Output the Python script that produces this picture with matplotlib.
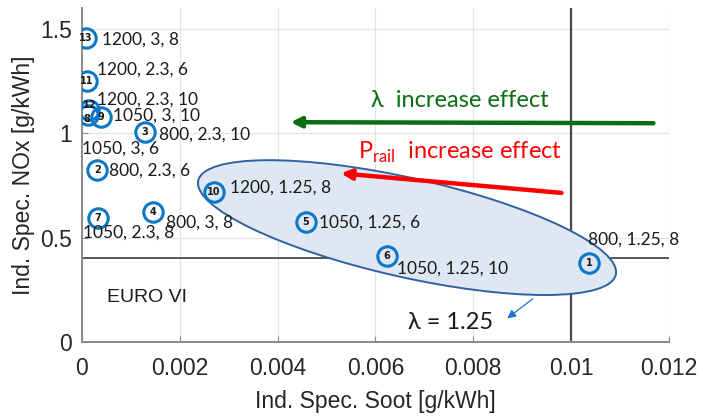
import matplotlib
matplotlib.use("Agg")
import matplotlib.pyplot as plt
from matplotlib.patches import Ellipse
from matplotlib.transforms import ScaledTranslation

plt.rcParams["mathtext.fontset"] = "custom"
plt.rcParams["mathtext.rm"] = "Lato"

# Operating points: soot vs NOx, labelled by (rail pressure, lambda, third parameter)
point_ids = [1, 2, 3, 4, 5, 6, 7, 8, 9, 10, 11, 12, 13]
soot = [0.01037, 0.00031, 0.00129, 0.00146, 0.00458, 0.00623, 0.00032,
        0.00012, 0.00038, 0.00270, 0.00010, 0.00014, 0.00008]
nox = [0.378, 0.823, 1.005, 0.622, 0.576, 0.411, 0.593,
       1.086, 1.080, 0.719, 1.249, 1.110, 1.455]
point_labels = ["800, 1.25, 8", "800, 2.3, 6", "800, 2.3, 10", "800, 3, 8",
                "1050, 1.25, 6", "1050, 1.25, 10", "1050, 2.3, 8", "1050, 3, 6",
                "1050, 3, 10", "1200, 1.25, 8", "1200, 2.3, 6", "1200, 2.3, 10",
                "1200, 3, 8"]

x_ticks = [0, 0.002, 0.004, 0.006, 0.008, 0.01, 0.012]
x_tick_labels = ["0", "0.002", "0.004", "0.006", "0.008", "0.01", "0.012"]
y_ticks = [0, 0.5, 1, 1.5]
y_tick_labels = ["0", "0.5", "1", "1.5"]

euro6_nox = 0.4
soot_limit = 0.01

# label offsets from each circle, in pixels
label_offsets = [(-1, 23), (12, 0), (14, -2), (13, -10), (13, -1), (10, -12),
                 (-15, -14), (-6, -33), (12, 1), (16, 4), (10, 12), (8, 11),
                 (16, -1)]
# small shifts of the circle numbers so the stacked 12 / 8 stay readable
number_offsets = [(0, 0), (0, 0), (0, 0), (0, 0), (0, 0), (0, 0), (0, 0),
                  (-1, -4), (0, 0), (0, 0), (0, 0), (1, 5), (0, 0)]

fig = plt.figure(figsize=(7.03, 4.16), dpi=100)
ax = fig.add_axes([0.1166, 0.1779, 0.8349, 0.8029])
ax.set_xlim(0, 0.012)
ax.set_ylim(0, 1.6)

ax.set_xticks(x_ticks)
ax.set_xticklabels(x_tick_labels)
ax.set_yticks(y_ticks)
ax.set_yticklabels(y_tick_labels)
ax.grid(True, color="#e4e4e4", linewidth=0.9)
ax.set_axisbelow(True)
for s in ["top", "right"]:
    ax.spines[s].set_visible(False)
for s in ["left", "bottom"]:
    ax.spines[s].set_color("#8a8a8a")
    ax.spines[s].set_linewidth(1.4)
ax.tick_params(direction="in", length=4, color="#8a8a8a", labelcolor="#262626",
               labelsize=16.5)
ax.tick_params(axis="x", pad=11)
ax.tick_params(axis="y", pad=7)
for lab in ax.get_xticklabels() + ax.get_yticklabels():
    lab.set_family("Liberation Sans")

ax.set_xlabel("Ind. Spec. Soot [g/kWh]", fontsize=16.5, family="Liberation Sans",
              color="#262626", labelpad=7)
ax.set_ylabel("Ind. Spec. NOx [g/kWh]", fontsize=16.5, family="Liberation Sans",
              color="#262626", labelpad=4)

# limit lines
ax.axhline(euro6_nox, color="#4a4a4a", linewidth=1.3, zorder=2)
ax.axvline(soot_limit, color="#4a4a4a", linewidth=1.6, zorder=2)

# lambda = 1.25 group highlighted by a rotated ellipse (sized in inches around a data centre)
ell_tr = fig.dpi_scale_trans + ScaledTranslation(0.006646, 0.548, ax.transData)
ellipse = Ellipse((0, 0), 4.28, 0.99, angle=-12.7, transform=ell_tr,
                  facecolor="#dfe7f3", edgecolor="#2f62a3", linewidth=1.4, zorder=3)
ax.add_patch(ellipse)

# circles with their numbers
ax.plot(soot, nox, linestyle="none", marker="o", markersize=14,
        markerfacecolor="none", markeredgecolor="#0a78c8", markeredgewidth=2.2,
        zorder=5)
for pid, xs, yn, off in zip(point_ids, soot, nox, number_offsets):
    ax.annotate(str(pid), (xs, yn), xytext=off, textcoords="offset pixels",
                ha="center", va="center", fontsize=7, fontweight="bold",
                family="DejaVu Sans", color="#1a1a1a", zorder=6)

for lab, xs, yn, off in zip(point_labels, soot, nox, label_offsets):
    ax.annotate(lab, (xs, yn), xytext=off, textcoords="offset pixels",
                ha="left", va="center", fontsize=12.5, family="Lato",
                color="#1a1a1a", zorder=6)

# effect arrows
ax.annotate("", xy=(0.00421, 1.053), xytext=(0.01174, 1.048),
            arrowprops=dict(arrowstyle="-|>,head_length=0.6,head_width=0.3",
                            color="#0b6e12", linewidth=3.2), zorder=7)
ax.text(0.0059, 1.158, "λ  increase effect", fontsize=17, family="Lato",
        color="#0b6e12", ha="left", va="center", zorder=7)

ax.annotate("", xy=(0.00524, 0.809), xytext=(0.00986, 0.713),
            arrowprops=dict(arrowstyle="-|>,head_length=0.6,head_width=0.3",
                            color="#ff0000", linewidth=3.2), zorder=7)
ax.text(0.00564, 0.909, r"P$_{\mathrm{rail}}$  increase effect", fontsize=17,
        family="Lato", color="#ff0000", ha="left", va="center", zorder=7)

ax.annotate("", xy=(0.00865, 0.105), xytext=(0.00926, 0.215),
            arrowprops=dict(arrowstyle="-|>,head_length=0.5,head_width=0.25",
                            color="#1f77d4", linewidth=0.9), zorder=7)
ax.text(0.00667, 0.091, "λ = 1.25", fontsize=17, family="Lato",
        color="#1a1a1a", ha="left", va="center", zorder=7)

ax.text(0.00051, 0.215, "EURO VI", fontsize=14, family="Liberation Sans",
        color="#1a1a1a", ha="left", va="center", zorder=7)

fig.savefig("out.png", dpi=100)
